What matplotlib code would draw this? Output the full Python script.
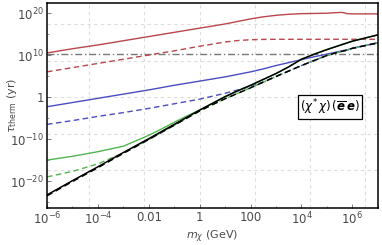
import numpy as np
import matplotlib
matplotlib.use('Agg')
import matplotlib.pyplot as plt
from matplotlib.ticker import FixedLocator, NullFormatter

# log10 of dark matter mass (GeV) at which the curves were read
m_log = [-6, -5, -4, -3, -2, -1.5, -1, -0.5, 0, 0.5, 1, 1.5, 2, 2.5, 3, 3.5, 4, 4.5, 5,
         5.4, 5.6, 5.8, 6, 7]

# log10 of thermalisation time (yr)
red_solid = [10.5, 11.5, 12.4, 13.4, 14.4, 14.9, 15.4, 15.9, 16.4, 16.9, 17.4, 18.0, 18.6, 19.1,
             19.45, 19.7, 19.85, 19.9, 19.95, 20.1, 20.15, 19.85, 19.8, 19.8]
red_dashed = [6.0, 7.0, 8.0, 9.0, 10.0, 10.5, 11.0, 11.55, 12.1, 12.6, 13.1, 13.45, 13.65, 13.72,
              13.75, 13.75, 13.75, 13.75, 13.75, 13.75, 13.75, 13.75, 13.75, 13.75]
blue_solid = [-2.3, -1.3, -0.3, 0.7, 1.7, 2.25, 2.8, 3.3, 3.8, 4.3, 4.8, 5.4, 6.0, 6.7,
              7.5, 8.2, 8.9, 9.6, 10.2, 10.75, 11.0, 11.25, 11.6, 12.9]
blue_dashed = [-6.5, -5.6, -4.6, -3.7, -2.7, -2.15, -1.6, -1.05, -0.5, 0.2, 0.9, 1.7, 2.5, 3.6,
               4.9, 6.2, 7.5, 8.7, 9.9, 10.6, 10.9, 11.2, 11.6, 12.9]
green_solid = [-15.0, -14.1, -13.0, -11.7, -9.1, -7.6, -6.0, -4.5, -3.1, -1.5, 0.1, 1.5, 2.8, 4.2,
               5.6, 7.2, 9.0, 10.2, 11.3, 12.1, 12.5, 12.9, 13.3, 14.8]
green_dashed = [-19.0, -17.7, -15.9, -13.3, -10.1, -8.4, -6.7, -5.0, -3.3, -1.8, -0.4, 0.9, 2.2, 3.55,
                4.9, 6.2, 7.5, 8.7, 9.9, 10.6, 10.9, 11.2, 11.6, 12.9]
black_solid = [-23.3, -19.9, -16.6, -13.2, -9.9, -8.2, -6.5, -4.8, -3.1, -1.5, 0.1, 1.5, 2.8, 4.2,
               5.6, 7.2, 9.0, 10.2, 11.3, 12.1, 12.5, 12.9, 13.3, 14.8]
black_dashed = [-23.5, -20.1, -16.8, -13.4, -10.1, -8.4, -6.7, -5.0, -3.3, -1.8, -0.4, 0.9, 2.2, 3.55,
                4.9, 6.2, 7.5, 8.7, 9.9, 10.6, 10.9, 11.2, 11.6, 12.9]
age_universe = 1.4e10

x_ticks = [1e-6, 1e-4, 1e-2, 1, 1e2, 1e4, 1e6]
x_labels = ['$10^{-6}$', '$10^{-4}$', '0.01', '1', '100', '$10^{4}$', '$10^{6}$']
y_ticks = [1e-20, 1e-10, 1, 1e10, 1e20]
y_labels = ['$10^{-20}$', '$10^{-10}$', '1', '$10^{10}$', '$10^{20}$']

red = '#b9464a'
blue = '#4b4cc0'
green = '#4fb64f'
txt = '#4a4a4a'

m = 10.0 ** np.array(m_log)

fig = plt.figure(figsize=(3.82, 2.45), dpi=100)
ax = fig.add_axes([0.123, 0.151, 0.866, 0.837])
ax.set_xscale('log')
ax.set_yscale('log')
ax.set_xlim(1e-6, 1e7)
ax.set_ylim(10 ** -26.4, 10 ** 22.4)

# Mathematica style grid (natural log spacing)
for g in np.exp(np.arange(-10, 16, 5)):
    ax.axvline(g, color='#dddddd', lw=0.8, ls=(0, (3, 3)), zorder=0)
for g in np.exp(np.arange(-40, 41, 20)):
    ax.axhline(g, color='#dddddd', lw=0.8, ls=(0, (3, 3)), zorder=0)

ax.axhline(age_universe, color='#777777', lw=1.0, ls=(0, (5, 2, 1, 2)))

ax.plot(m, 10.0 ** np.array(red_solid), color=red, lw=1.0)
ax.plot(m, 10.0 ** np.array(red_dashed), color=red, lw=1.0, ls=(0, (4, 2.5)))
ax.plot(m, 10.0 ** np.array(blue_solid), color=blue, lw=1.0)
ax.plot(m, 10.0 ** np.array(blue_dashed), color=blue, lw=1.0, ls=(0, (4, 2.5)))
ax.plot(m, 10.0 ** np.array(green_solid), color=green, lw=1.0)
ax.plot(m, 10.0 ** np.array(green_dashed), color=green, lw=1.0, ls=(0, (4, 2.5)))
ax.plot(m, 10.0 ** np.array(black_solid), color='black', lw=1.1)
ax.plot(m, 10.0 ** np.array(black_dashed), color='black', lw=1.1, ls=(0, (4, 2.5)))

ax.xaxis.set_major_locator(FixedLocator(x_ticks))
ax.set_xticklabels(x_labels)
ax.xaxis.set_minor_locator(FixedLocator([10.0 ** k for k in range(-6, 8)]))
ax.xaxis.set_minor_formatter(NullFormatter())
ax.yaxis.set_major_locator(FixedLocator(y_ticks))
ax.set_yticklabels(y_labels)
ax.yaxis.set_minor_locator(FixedLocator([10.0 ** k for k in range(-25, 23, 5)]))
ax.yaxis.set_minor_formatter(NullFormatter())
ax.tick_params(which='both', direction='in', labelsize=8.5, labelcolor=txt, color='#666666', pad=2)
ax.tick_params(which='major', length=3, width=0.6)
ax.tick_params(which='minor', length=1.5, width=0.5)
for s in ax.spines.values():
    s.set_linewidth(1.1)

ax.set_xlabel(r'$m_\chi$ (GeV)', fontsize=8, color=txt, labelpad=1)
ax.set_ylabel(r'$\tau_{\mathrm{therm}}$ (yr)', fontsize=8, color=txt)
ax.yaxis.set_label_coords(-0.085, 0.5)

ax.text(0.855, 0.493, r'$(\chi^{*}\,\chi)\,(\overline{\boldsymbol{e}}\,\boldsymbol{e})$',
        transform=ax.transAxes, ha='center', va='center', fontsize=8.5,
        bbox=dict(boxstyle='square,pad=0.18', fc='white', ec='black', lw=0.9))

fig.savefig('out.png', dpi=100)
